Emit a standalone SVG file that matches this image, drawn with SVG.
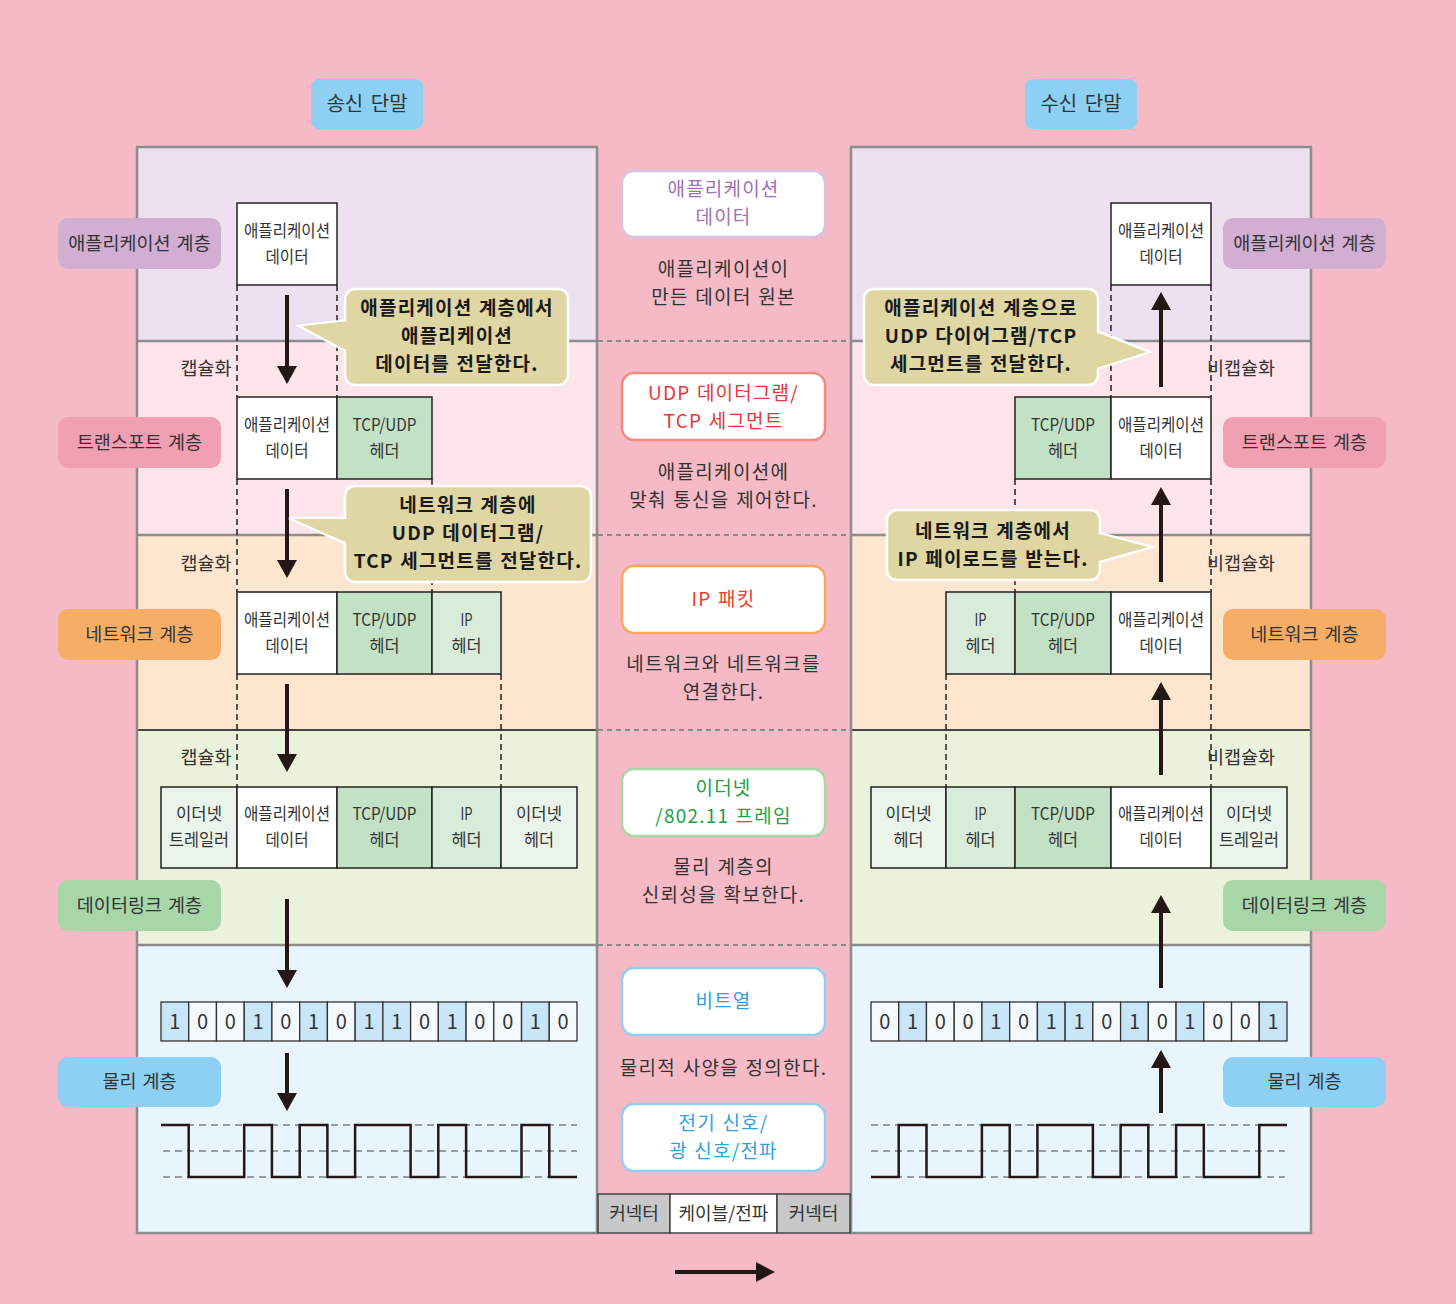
<svg xmlns="http://www.w3.org/2000/svg" width="1456" height="1304" viewBox="0 0 1456 1304">
<style>
text{font-family:"Noto Sans CJK KR","Noto Sans",sans-serif;fill:#333;text-anchor:middle}
.pk{font-size:17px;fill:#333}
.lbl{font-size:18.5px;word-spacing:2px}
.desc{font-size:19px;fill:#333;letter-spacing:1.3px;word-spacing:1px}
.mt{font-size:19px;letter-spacing:1.2px;word-spacing:1px}
.co{font-size:19px;font-weight:bold;fill:#1a1a1a;letter-spacing:1.2px;word-spacing:1px}
.cap{font-size:18.5px;fill:#333}
.bit{font-size:20px;fill:#333}
.cell{stroke:#222;stroke-width:1.5}
.app{fill:#fff}.tcp{fill:#C3E1C4}.ip{fill:#D9ECD9}.eth{fill:#EBF4EA}
.b1{fill:#C8E6F8;stroke:#333;stroke-width:1.3}.b0{fill:#F4F9FD;stroke:#333;stroke-width:1.3}
.dv{stroke:#222;stroke-width:1.5;stroke-dasharray:6 4;fill:none}
.mid{stroke:#888;stroke-width:2;stroke-dasharray:5 4}
.wd{stroke:#444;stroke-width:1.2;stroke-dasharray:7 5}
.wave{fill:none;stroke:#231815;stroke-width:2.5}
.shaft{stroke:#231815;stroke-width:4}
.head{fill:#231815}
.cbox{fill:#E0D6A3;stroke:#fff;stroke-width:2.5}
.cfill{fill:#E0D6A3}
.mbox{fill:#fff;stroke-width:2.5}
.sep{stroke:#8C8C8C;stroke-width:2.5}
</style>
<rect width="1456" height="1304" fill="#F6BAC6"/>

<g id="left-panel">
<rect x="137" y="147" width="460" height="194" fill="#EDE0EF"/>
<rect x="137" y="341" width="460" height="194" fill="#FCE4E9"/>
<rect x="137" y="535" width="460" height="195" fill="#FDE5CF"/>
<rect x="137" y="730" width="460" height="215" fill="#EBF2DB"/>
<rect x="137" y="945" width="460" height="288" fill="#E9F5FD"/>
<line x1="137" y1="341" x2="597" y2="341" class="sep"/>
<line x1="137" y1="535" x2="597" y2="535" class="sep"/>
<line x1="137" y1="730" x2="597" y2="730" stroke="#444" stroke-width="2"/>
<line x1="137" y1="945" x2="597" y2="945" class="sep"/>
<rect x="137" y="147" width="460" height="1086" fill="none" stroke="#8C8C8C" stroke-width="2.5"/>
</g>
<g id="right-panel">
<rect x="851" y="147" width="460" height="194" fill="#EDE0EF"/>
<rect x="851" y="341" width="460" height="194" fill="#FCE4E9"/>
<rect x="851" y="535" width="460" height="195" fill="#FDE5CF"/>
<rect x="851" y="730" width="460" height="215" fill="#EBF2DB"/>
<rect x="851" y="945" width="460" height="288" fill="#E9F5FD"/>
<line x1="851" y1="341" x2="1311" y2="341" class="sep"/>
<line x1="851" y1="535" x2="1311" y2="535" class="sep"/>
<line x1="851" y1="730" x2="1311" y2="730" stroke="#444" stroke-width="2"/>
<line x1="851" y1="945" x2="1311" y2="945" class="sep"/>
<rect x="851" y="147" width="460" height="1086" fill="none" stroke="#8C8C8C" stroke-width="2.5"/>
</g>

<g id="middle-separators">
<line x1="598" y1="341" x2="850" y2="341" class="mid"/>
<line x1="598" y1="535" x2="850" y2="535" class="mid"/>
<line x1="598" y1="730" x2="850" y2="730" class="mid"/>
<line x1="598" y1="945" x2="850" y2="945" class="mid"/>
</g>

<g id="sender-header">
<rect x="311" y="79" width="112" height="50" rx="8" fill="#8DD0F3"/>
<text x="367" y="111" style="font-size:20px;word-spacing:3px">송신 단말</text>
</g>
<g id="receiver-header">
<rect x="1025" y="79" width="112" height="50" rx="8" fill="#8DD0F3"/>
<text x="1081" y="111" style="font-size:20px;word-spacing:3px">수신 단말</text>
</g>

<g id="label-app-left"><rect x="58" y="218" width="163" height="51" rx="10" fill="#D2AED3"/><text class="lbl" x="139.5" y="249.5">애플리케이션 계층</text></g>
<g id="label-transport-left"><rect x="58" y="417" width="163" height="51" rx="10" fill="#F19FB3"/><text class="lbl" x="139.5" y="448.5">트랜스포트 계층</text></g>
<g id="label-network-left"><rect x="58" y="609" width="163" height="51" rx="10" fill="#F6AE66"/><text class="lbl" x="139.5" y="640.5">네트워크 계층</text></g>
<g id="label-datalink-left"><rect x="58" y="880" width="163" height="51" rx="10" fill="#A7D6A9"/><text class="lbl" x="139.5" y="911.5">데이터링크 계층</text></g>
<g id="label-physical-left"><rect x="58" y="1057" width="163" height="50" rx="10" fill="#8DD0F3"/><text class="lbl" x="139.5" y="1088">물리 계층</text></g>
<g id="label-app-right"><rect x="1223" y="218" width="163" height="51" rx="10" fill="#D2AED3"/><text class="lbl" x="1304.5" y="249.5">애플리케이션 계층</text></g>
<g id="label-transport-right"><rect x="1223" y="417" width="163" height="51" rx="10" fill="#F19FB3"/><text class="lbl" x="1304.5" y="448.5">트랜스포트 계층</text></g>
<g id="label-network-right"><rect x="1223" y="609" width="163" height="51" rx="10" fill="#F6AE66"/><text class="lbl" x="1304.5" y="640.5">네트워크 계층</text></g>
<g id="label-datalink-right"><rect x="1223" y="880" width="163" height="51" rx="10" fill="#A7D6A9"/><text class="lbl" x="1304.5" y="911.5">데이터링크 계층</text></g>
<g id="label-physical-right"><rect x="1223" y="1057" width="163" height="50" rx="10" fill="#8DD0F3"/><text class="lbl" x="1304.5" y="1088">물리 계층</text></g>

<g id="guides">
<line x1="237" y1="285" x2="237" y2="397" class="dv"/>
<line x1="337" y1="285" x2="337" y2="397" class="dv"/>
<line x1="237" y1="479" x2="237" y2="592" class="dv"/>
<line x1="432" y1="479" x2="432" y2="592" class="dv"/>
<line x1="237" y1="674" x2="237" y2="787" class="dv"/>
<line x1="501" y1="674" x2="501" y2="787" class="dv"/>
<line x1="1111" y1="285" x2="1111" y2="397" class="dv"/>
<line x1="1211" y1="285" x2="1211" y2="397" class="dv"/>
<line x1="1015" y1="479" x2="1015" y2="592" class="dv"/>
<line x1="1211" y1="479" x2="1211" y2="592" class="dv"/>
<line x1="946" y1="674" x2="946" y2="787" class="dv"/>
<line x1="1211" y1="674" x2="1211" y2="787" class="dv"/>
</g>

<g id="encap-labels">
<text class="cap" x="206" y="375">캡슐화</text>
<text class="cap" x="206" y="570">캡슐화</text>
<text class="cap" x="206" y="764">캡슐화</text>
<text class="cap" x="1241" y="375">비캡슐화</text>
<text class="cap" x="1241" y="570">비캡슐화</text>
<text class="cap" x="1241" y="764">비캡슐화</text>
</g>

<g id="left-app-packet">
<rect x="237" y="203" width="100" height="82" class="cell app"/>
<text class="pk" x="287" y="237" textLength="86" lengthAdjust="spacingAndGlyphs">애플리케이션</text>
<text class="pk" x="287" y="263" textLength="43" lengthAdjust="spacingAndGlyphs">데이터</text>
</g>
<g id="left-transport-packet">
<rect x="237" y="397" width="100" height="82" class="cell app"/>
<rect x="337" y="397" width="95" height="82" class="cell tcp"/>
<text class="pk" x="287" y="431" textLength="86" lengthAdjust="spacingAndGlyphs">애플리케이션</text>
<text class="pk" x="287" y="457" textLength="43" lengthAdjust="spacingAndGlyphs">데이터</text>
<text class="pk" x="384.5" y="431" textLength="64" lengthAdjust="spacingAndGlyphs">TCP/UDP</text>
<text class="pk" x="384.5" y="457" textLength="30" lengthAdjust="spacingAndGlyphs">헤더</text>
</g>
<g id="left-network-packet">
<rect x="237" y="592" width="100" height="82" class="cell app"/>
<rect x="337" y="592" width="95" height="82" class="cell tcp"/>
<rect x="432" y="592" width="69" height="82" class="cell ip"/>
<text class="pk" x="287" y="626" textLength="86" lengthAdjust="spacingAndGlyphs">애플리케이션</text>
<text class="pk" x="287" y="652" textLength="43" lengthAdjust="spacingAndGlyphs">데이터</text>
<text class="pk" x="384.5" y="626" textLength="64" lengthAdjust="spacingAndGlyphs">TCP/UDP</text>
<text class="pk" x="384.5" y="652" textLength="30" lengthAdjust="spacingAndGlyphs">헤더</text>
<text class="pk" x="466.5" y="626" textLength="12" lengthAdjust="spacingAndGlyphs">IP</text>
<text class="pk" x="466.5" y="652" textLength="30" lengthAdjust="spacingAndGlyphs">헤더</text>
</g>
<g id="left-datalink-frame">
<rect x="161" y="787" width="76" height="81" class="cell eth"/>
<rect x="237" y="787" width="100" height="81" class="cell app"/>
<rect x="337" y="787" width="95" height="81" class="cell tcp"/>
<rect x="432" y="787" width="69" height="81" class="cell ip"/>
<rect x="501" y="787" width="76" height="81" class="cell eth"/>
<text class="pk" x="199" y="820" textLength="46" lengthAdjust="spacingAndGlyphs">이더넷</text>
<text class="pk" x="199" y="846" textLength="60" lengthAdjust="spacingAndGlyphs">트레일러</text>
<text class="pk" x="287" y="820" textLength="86" lengthAdjust="spacingAndGlyphs">애플리케이션</text>
<text class="pk" x="287" y="846" textLength="43" lengthAdjust="spacingAndGlyphs">데이터</text>
<text class="pk" x="384.5" y="820" textLength="64" lengthAdjust="spacingAndGlyphs">TCP/UDP</text>
<text class="pk" x="384.5" y="846" textLength="30" lengthAdjust="spacingAndGlyphs">헤더</text>
<text class="pk" x="466.5" y="820" textLength="12" lengthAdjust="spacingAndGlyphs">IP</text>
<text class="pk" x="466.5" y="846" textLength="30" lengthAdjust="spacingAndGlyphs">헤더</text>
<text class="pk" x="539" y="820" textLength="46" lengthAdjust="spacingAndGlyphs">이더넷</text>
<text class="pk" x="539" y="846" textLength="30" lengthAdjust="spacingAndGlyphs">헤더</text>
</g>

<g id="right-app-packet">
<rect x="1111" y="203" width="100" height="82" class="cell app"/>
<text class="pk" x="1161" y="237" textLength="86" lengthAdjust="spacingAndGlyphs">애플리케이션</text>
<text class="pk" x="1161" y="263" textLength="43" lengthAdjust="spacingAndGlyphs">데이터</text>
</g>
<g id="right-transport-packet">
<rect x="1015" y="397" width="96" height="82" class="cell tcp"/>
<rect x="1111" y="397" width="100" height="82" class="cell app"/>
<text class="pk" x="1063" y="431" textLength="64" lengthAdjust="spacingAndGlyphs">TCP/UDP</text>
<text class="pk" x="1063" y="457" textLength="30" lengthAdjust="spacingAndGlyphs">헤더</text>
<text class="pk" x="1161" y="431" textLength="86" lengthAdjust="spacingAndGlyphs">애플리케이션</text>
<text class="pk" x="1161" y="457" textLength="43" lengthAdjust="spacingAndGlyphs">데이터</text>
</g>
<g id="right-network-packet">
<rect x="946" y="592" width="69" height="82" class="cell ip"/>
<rect x="1015" y="592" width="96" height="82" class="cell tcp"/>
<rect x="1111" y="592" width="100" height="82" class="cell app"/>
<text class="pk" x="980.5" y="626" textLength="12" lengthAdjust="spacingAndGlyphs">IP</text>
<text class="pk" x="980.5" y="652" textLength="30" lengthAdjust="spacingAndGlyphs">헤더</text>
<text class="pk" x="1063" y="626" textLength="64" lengthAdjust="spacingAndGlyphs">TCP/UDP</text>
<text class="pk" x="1063" y="652" textLength="30" lengthAdjust="spacingAndGlyphs">헤더</text>
<text class="pk" x="1161" y="626" textLength="86" lengthAdjust="spacingAndGlyphs">애플리케이션</text>
<text class="pk" x="1161" y="652" textLength="43" lengthAdjust="spacingAndGlyphs">데이터</text>
</g>
<g id="right-datalink-frame">
<rect x="871" y="787" width="75" height="81" class="cell eth"/>
<rect x="946" y="787" width="69" height="81" class="cell ip"/>
<rect x="1015" y="787" width="96" height="81" class="cell tcp"/>
<rect x="1111" y="787" width="100" height="81" class="cell app"/>
<rect x="1211" y="787" width="76" height="81" class="cell eth"/>
<text class="pk" x="908.5" y="820" textLength="46" lengthAdjust="spacingAndGlyphs">이더넷</text>
<text class="pk" x="908.5" y="846" textLength="30" lengthAdjust="spacingAndGlyphs">헤더</text>
<text class="pk" x="980.5" y="820" textLength="12" lengthAdjust="spacingAndGlyphs">IP</text>
<text class="pk" x="980.5" y="846" textLength="30" lengthAdjust="spacingAndGlyphs">헤더</text>
<text class="pk" x="1063" y="820" textLength="64" lengthAdjust="spacingAndGlyphs">TCP/UDP</text>
<text class="pk" x="1063" y="846" textLength="30" lengthAdjust="spacingAndGlyphs">헤더</text>
<text class="pk" x="1161" y="820" textLength="86" lengthAdjust="spacingAndGlyphs">애플리케이션</text>
<text class="pk" x="1161" y="846" textLength="43" lengthAdjust="spacingAndGlyphs">데이터</text>
<text class="pk" x="1249" y="820" textLength="46" lengthAdjust="spacingAndGlyphs">이더넷</text>
<text class="pk" x="1249" y="846" textLength="60" lengthAdjust="spacingAndGlyphs">트레일러</text>
</g>

<g id="left-bits">
<rect x="161" y="1002" width="27.73" height="39" class="b1"/>
<rect x="188.73" y="1002" width="27.73" height="39" class="b0"/>
<rect x="216.47" y="1002" width="27.73" height="39" class="b0"/>
<rect x="244.2" y="1002" width="27.73" height="39" class="b1"/>
<rect x="271.93" y="1002" width="27.73" height="39" class="b0"/>
<rect x="299.67" y="1002" width="27.73" height="39" class="b1"/>
<rect x="327.4" y="1002" width="27.73" height="39" class="b0"/>
<rect x="355.13" y="1002" width="27.73" height="39" class="b1"/>
<rect x="382.87" y="1002" width="27.73" height="39" class="b1"/>
<rect x="410.6" y="1002" width="27.73" height="39" class="b0"/>
<rect x="438.33" y="1002" width="27.73" height="39" class="b1"/>
<rect x="466.07" y="1002" width="27.73" height="39" class="b0"/>
<rect x="493.8" y="1002" width="27.73" height="39" class="b0"/>
<rect x="521.53" y="1002" width="27.73" height="39" class="b1"/>
<rect x="549.27" y="1002" width="27.73" height="39" class="b0"/>
<text class="bit" x="174.9" y="1029">1</text><text class="bit" x="202.6" y="1029">0</text><text class="bit" x="230.3" y="1029">0</text><text class="bit" x="258.1" y="1029">1</text><text class="bit" x="285.8" y="1029">0</text><text class="bit" x="313.5" y="1029">1</text><text class="bit" x="341.3" y="1029">0</text><text class="bit" x="369" y="1029">1</text><text class="bit" x="396.7" y="1029">1</text><text class="bit" x="424.5" y="1029">0</text><text class="bit" x="452.2" y="1029">1</text><text class="bit" x="479.9" y="1029">0</text><text class="bit" x="507.7" y="1029">0</text><text class="bit" x="535.4" y="1029">1</text><text class="bit" x="563.1" y="1029">0</text>
</g>
<g id="right-bits">
<rect x="871" y="1002" width="27.73" height="39" class="b0"/>
<rect x="898.73" y="1002" width="27.73" height="39" class="b1"/>
<rect x="926.47" y="1002" width="27.73" height="39" class="b0"/>
<rect x="954.2" y="1002" width="27.73" height="39" class="b0"/>
<rect x="981.93" y="1002" width="27.73" height="39" class="b1"/>
<rect x="1009.67" y="1002" width="27.73" height="39" class="b0"/>
<rect x="1037.4" y="1002" width="27.73" height="39" class="b1"/>
<rect x="1065.13" y="1002" width="27.73" height="39" class="b1"/>
<rect x="1092.87" y="1002" width="27.73" height="39" class="b0"/>
<rect x="1120.6" y="1002" width="27.73" height="39" class="b1"/>
<rect x="1148.33" y="1002" width="27.73" height="39" class="b0"/>
<rect x="1176.07" y="1002" width="27.73" height="39" class="b1"/>
<rect x="1203.8" y="1002" width="27.73" height="39" class="b0"/>
<rect x="1231.53" y="1002" width="27.73" height="39" class="b0"/>
<rect x="1259.27" y="1002" width="27.73" height="39" class="b1"/>
<text class="bit" x="884.9" y="1029">0</text><text class="bit" x="912.6" y="1029">1</text><text class="bit" x="940.3" y="1029">0</text><text class="bit" x="968.1" y="1029">0</text><text class="bit" x="995.8" y="1029">1</text><text class="bit" x="1023.5" y="1029">0</text><text class="bit" x="1051.3" y="1029">1</text><text class="bit" x="1079" y="1029">1</text><text class="bit" x="1106.7" y="1029">0</text><text class="bit" x="1134.5" y="1029">1</text><text class="bit" x="1162.2" y="1029">0</text><text class="bit" x="1189.9" y="1029">1</text><text class="bit" x="1217.7" y="1029">0</text><text class="bit" x="1245.4" y="1029">0</text><text class="bit" x="1273.1" y="1029">1</text>
</g>

<g id="left-signal">
<line x1="163" y1="1125" x2="577" y2="1125" class="wd"/>
<line x1="163" y1="1151" x2="577" y2="1151" class="wd"/>
<line x1="163" y1="1177" x2="577" y2="1177" class="wd"/>
<path class="wave" d="M161,1125 H188.7 V1177 H244.2 V1125 H271.9 V1177 H299.7 V1125 H327.4 V1177 H355.1 V1125 H410.6 V1177 H438.3 V1125 H466.1 V1177 H521.5 V1125 H549.3 V1177 H577"/>
</g>
<g id="right-signal">
<line x1="871" y1="1125" x2="1285" y2="1125" class="wd"/>
<line x1="871" y1="1151" x2="1285" y2="1151" class="wd"/>
<line x1="871" y1="1177" x2="1285" y2="1177" class="wd"/>
<path class="wave" d="M871,1177 H898.7 V1125 H926.5 V1177 H981.9 V1125 H1009.7 V1177 H1037.4 V1125 H1092.9 V1177 H1120.6 V1125 H1148.3 V1177 H1176.1 V1125 H1203.8 V1177 H1259.3 V1125 H1287"/>
</g>

<g id="connectors">
<line x1="287" y1="295" x2="287" y2="368" class="shaft"/><polygon class="head" points="277,366 297,366 287,384"/>
<line x1="287" y1="489" x2="287" y2="562" class="shaft"/><polygon class="head" points="277,560 297,560 287,578"/>
<line x1="287" y1="684" x2="287" y2="756" class="shaft"/><polygon class="head" points="277,754 297,754 287,772"/>
<line x1="287" y1="899" x2="287" y2="972" class="shaft"/><polygon class="head" points="277,970 297,970 287,988"/>
<line x1="287" y1="1053" x2="287" y2="1095" class="shaft"/><polygon class="head" points="277,1093 297,1093 287,1111"/>
<line x1="1161" y1="1113" x2="1161" y2="1066" class="shaft"/><polygon class="head" points="1151,1068 1171,1068 1161,1050"/>
<line x1="1161" y1="988" x2="1161" y2="911" class="shaft"/><polygon class="head" points="1151,913 1171,913 1161,895"/>
<line x1="1161" y1="775" x2="1161" y2="698" class="shaft"/><polygon class="head" points="1151,700 1171,700 1161,682"/>
<line x1="1161" y1="582" x2="1161" y2="503" class="shaft"/><polygon class="head" points="1151,505 1171,505 1161,487"/>
<line x1="1161" y1="387" x2="1161" y2="308" class="shaft"/><polygon class="head" points="1151,310 1171,310 1161,292"/>
<line x1="675" y1="1272" x2="758" y2="1272" class="shaft"/><polygon class="head" points="756,1262 756,1282 775,1272"/>
</g>

<g id="callout-left-1">
<polygon class="cbox" points="349,320 299,326 349,353"/>
<rect class="cbox" x="345" y="289" width="223" height="96" rx="10"/>
<polygon class="cfill" points="350,321 302,326 350,352"/>
<text class="co" x="457" y="315"><tspan x="457">애플리케이션 계층에서</tspan><tspan x="457" dy="28">애플리케이션</tspan><tspan x="457" dy="28">데이터를 전달한다.</tspan></text>
</g>
<g id="callout-left-2">
<polygon class="cbox" points="349,518 289,518 349,545"/>
<rect class="cbox" x="345" y="486" width="246" height="96" rx="10"/>
<polygon class="cfill" points="350,519 293,519 350,544"/>
<text class="co" x="468" y="512"><tspan x="468">네트워크 계층에</tspan><tspan x="468" dy="28">UDP 데이터그램/</tspan><tspan x="468" dy="28">TCP 세그먼트를 전달한다.</tspan></text>
</g>
<g id="callout-right-1">
<polygon class="cbox" points="1094,330 1150,352 1094,370"/>
<rect class="cbox" x="864" y="289" width="234" height="96" rx="10"/>
<polygon class="cfill" points="1093,331 1146,352 1093,369"/>
<text class="co" x="981" y="315"><tspan x="981">애플리케이션 계층으로</tspan><tspan x="981" dy="28">UDP 다이어그램/TCP</tspan><tspan x="981" dy="28">세그먼트를 전달한다.</tspan></text>
</g>
<g id="callout-right-2">
<polygon class="cbox" points="1096,532 1152,547 1096,563"/>
<rect class="cbox" x="887" y="510" width="213" height="70" rx="10"/>
<polygon class="cfill" points="1095,533 1148,547 1095,562"/>
<text class="co" x="993" y="537.5"><tspan x="993">네트워크 계층에서</tspan><tspan x="993" dy="28">IP 페이로드를 받는다.</tspan></text>
</g>

<g id="mid-app">
<rect class="mbox" x="622" y="171" width="203" height="66" rx="12" stroke="#D8C4E2"/>
<text class="mt" x="723.5" y="196" style="fill:#A070B4"><tspan x="723.5">애플리케이션</tspan><tspan x="723.5" dy="28">데이터</tspan></text>
<text class="desc" x="723.5" y="275.5"><tspan x="723.5">애플리케이션이</tspan><tspan x="723.5" dy="28">만든 데이터 원본</tspan></text>
</g>
<g id="mid-transport">
<rect class="mbox" x="622" y="373" width="203" height="67" rx="12" stroke="#F08A80"/>
<text class="mt" x="723.5" y="399.5" style="fill:#E8353A"><tspan x="723.5">UDP 데이터그램/</tspan><tspan x="723.5" dy="28">TCP 세그먼트</tspan></text>
<text class="desc" x="723.5" y="478.5"><tspan x="723.5">애플리케이션에</tspan><tspan x="723.5" dy="28">맞춰 통신을 제어한다.</tspan></text>
</g>
<g id="mid-network">
<rect class="mbox" x="622" y="566" width="203" height="67" rx="12" stroke="#F6A860"/>
<text class="mt" x="723.5" y="606" style="fill:#E8402A">IP 패킷</text>
<text class="desc" x="723.5" y="670.5"><tspan x="723.5">네트워크와 네트워크를</tspan><tspan x="723.5" dy="28">연결한다.</tspan></text>
</g>
<g id="mid-datalink">
<rect class="mbox" x="622" y="769" width="203" height="67" rx="12" stroke="#A4D8A4"/>
<text class="mt" x="723.5" y="794.5" style="fill:#22A043"><tspan x="723.5">이더넷</tspan><tspan x="723.5" dy="28">/802.11 프레임</tspan></text>
<text class="desc" x="723.5" y="873.5"><tspan x="723.5">물리 계층의</tspan><tspan x="723.5" dy="28">신뢰성을 확보한다.</tspan></text>
</g>
<g id="mid-physical">
<rect class="mbox" x="622" y="968" width="203" height="67" rx="12" stroke="#8DD0F3"/>
<text class="mt" x="723.5" y="1008" style="fill:#2FA0E0">비트열</text>
<text class="desc" x="723.5" y="1075">물리적 사양을 정의한다.</text>
</g>
<g id="mid-signal">
<rect class="mbox" x="622" y="1104" width="203" height="67" rx="12" stroke="#8DD0F3"/>
<text class="mt" x="723.5" y="1130" style="fill:#2FA0E0"><tspan x="723.5">전기 신호/</tspan><tspan x="723.5" dy="28">광 신호/전파</tspan></text>
</g>
<g id="cable-bar">
<rect x="598" y="1194" width="72" height="39" fill="#C8C8C8" stroke="#444" stroke-width="1.5"/>
<rect x="670" y="1194" width="107" height="39" fill="#fff" stroke="#444" stroke-width="1.5"/>
<rect x="777" y="1194" width="73" height="39" fill="#C8C8C8" stroke="#444" stroke-width="1.5"/>
<text x="634" y="1220" style="font-size:18px">커넥터</text>
<text x="723.5" y="1220" style="font-size:18px">케이블/전파</text>
<text x="813.5" y="1220" style="font-size:18px">커넥터</text>
</g>
</svg>
